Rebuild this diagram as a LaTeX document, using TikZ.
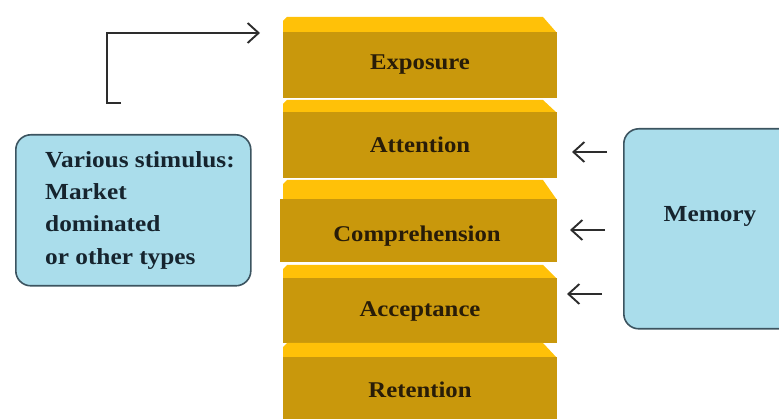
\documentclass[tikz,border=0pt]{standalone}
\usepackage{fontspec}
\setmainfont{Liberation Serif}[FakeStretch=1.1]
\usetikzlibrary{arrows.meta}
\definecolor{bevelc}{RGB}{255,193,8}
\definecolor{frontc}{RGB}{201,152,12}
\definecolor{boxc}{RGB}{170,221,235}
\definecolor{boxline}{RGB}{60,84,96}
\definecolor{lblc}{RGB}{40,28,8}
\definecolor{txtc}{RGB}{22,36,46}
\definecolor{arrc}{RGB}{45,45,45}
\tikzset{
  front/.style={fill=frontc, draw=none, inner sep=0pt, anchor=north west, minimum width=274pt},
  lbl/.style={font=\fontsize{22.5}{26}\selectfont\bfseries, text=lblc, anchor=base, inner sep=0pt},
  bluebox/.style={fill=boxc, draw=boxline, line width=1.6pt, rounded corners=15pt},
  boxtxt/.style={font=\fontsize{23}{26}\selectfont\bfseries, text=txtc, anchor=base west, inner sep=0pt},
  conn/.style={draw=arrc, line width=1.8pt},
  arr/.style={conn, -{Straight Barb[length=11pt,width=20pt,line width=1.9pt]}}
}
\newcommand{\bevel}[3]{% top y, front top y, left x
  \fill[bevelc] (#3,#1+4) -- (#3+4,#1) -- (543,#1) -- (557,#2+1) -- (557,#2+1) -- (#3,#2+1) -- cycle;}
\begin{document}
\begin{tikzpicture}[x=1pt,y=-1pt]
\useasboundingbox (0,0) rectangle (779,419);
% stacked blocks
\bevel{17}{32}{283}
\node[front, minimum height=66pt] (exp) at (283,32) {};
\bevel{100}{112}{283}
\node[front, minimum height=66pt] (att) at (283,112) {};
\bevel{180}{199}{283}
\node[front, minimum height=63pt, minimum width=277pt] (com) at (280,199) {};
\bevel{265}{278}{283}
\node[front, minimum height=65pt] (acc) at (283,278) {};
\bevel{343}{357}{283}
\node[front, minimum height=62pt] (ret) at (283,357) {};
\node[lbl] (lexp) at (420,70) {Exposure};
\node[lbl] (latt) at (420,153) {Attention};
\node[lbl] (lcom) at (417,242) {Comprehension};
\node[lbl] (lacc) at (420,317) {Acceptance};
\node[lbl] (lret) at (420,398) {Retention};
% left box
\node[bluebox, minimum width=235pt, minimum height=151pt, anchor=north west] (stim) at (15,134) {};
\node[boxtxt] (s1) at (45,168) {Various stimulus:};
\node[boxtxt] (s2) at (45,200) {Market};
\node[boxtxt] (s3) at (45,232) {dominated};
\node[boxtxt] (s4) at (45,265) {or other types};
% memory box
\node[bluebox, minimum width=180pt, minimum height=200pt, anchor=north west] (mem) at (623,128) {};
\node[boxtxt, anchor=base] (lmem) at (710,222) {Memory};
% bracket arrow
\coordinate (bfoot) at (121,103);
\coordinate (bcorner) at (107,103);
\coordinate (btop) at (107,33);
\coordinate (bend) at (260,33);
\draw[arr] (bfoot) -- (bcorner) -- (btop) -- (bend);
% memory arrows
\coordinate (m1s) at (607,152); \coordinate (m1e) at (572,152);
\coordinate (m2s) at (605,230); \coordinate (m2e) at (570,230);
\coordinate (m3s) at (602,294); \coordinate (m3e) at (567,294);
\draw[arr] (m1s) -- (m1e);
\draw[arr] (m2s) -- (m2e);
\draw[arr] (m3s) -- (m3e);
\end{tikzpicture}
\end{document}
